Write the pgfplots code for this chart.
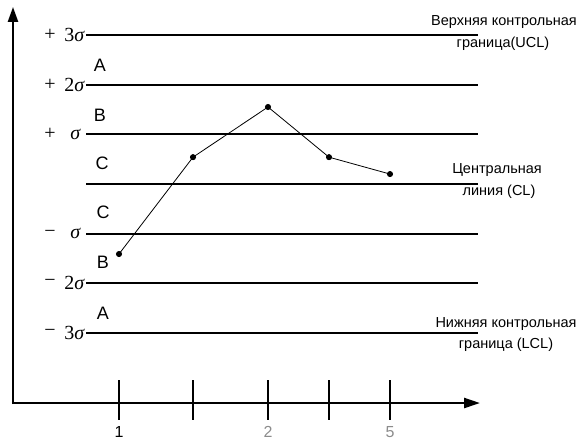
\documentclass[border=0pt]{standalone}
\usepackage{fontspec}
\setmainfont{Liberation Sans}
\newfontfamily\serif{Liberation Serif}
\usepackage{pgfplots}
\pgfplotsset{compat=1.18}
\usetikzlibrary{arrows.meta}
\newcommand{\fs}[1]{\fontsize{#1}{#1}\selectfont}
\begin{document}
\begin{tikzpicture}
\begin{axis}[
  scale only axis, width=581pt, height=443pt,
  xmin=0, xmax=581, ymin=-5.214, ymax=3.704,
  axis lines=none, clip=false,
]
\path (rel axis cs:0,0) rectangle (rel axis cs:1,1);
% control lines
\addplot[black, line width=1.8pt, forget plot] coordinates {(86,3) (478,3)};
\addplot[black, line width=1.8pt, forget plot] coordinates {(86,2) (478,2)};
\addplot[black, line width=1.8pt, forget plot] coordinates {(86,1) (478,1)};
\addplot[black, line width=1.8pt, forget plot] coordinates {(86,0) (478,0)};
\addplot[black, line width=1.8pt, forget plot] coordinates {(86,-1) (478,-1)};
\addplot[black, line width=1.8pt, forget plot] coordinates {(86,-2) (478,-2)};
\addplot[black, line width=1.8pt, forget plot] coordinates {(86,-3) (478,-3)};
% data
\addplot[black, line width=0.8pt, mark=*, mark size=2.6pt, mark options={fill=black}]
  coordinates {(119,-1.41) (193,0.54) (268,1.55) (329,0.54) (390,0.20)};
% axes
\draw[line width=2.4pt, -{Triangle[length=15pt,width=10pt]}] (axis cs:13,-4.43) -- (axis cs:13,3.564);
\draw[line width=2.4pt, -{Triangle[length=16pt,width=10pt]}] (axis cs:11.8,-4.409) -- (axis cs:480,-4.409);
\pgfplotsinvokeforeach{119,193,268,329,390}{
  \draw[line width=2.4pt] (axis cs:#1,-3.946) -- (axis cs:#1,-4.751);
}
% sigma labels
\tikzset{sg/.style={inner sep=0pt, font=\serif\fs{20}}}
\node[sg] at (axis cs:50,3) {+};
\node[sg] at (axis cs:50,2) {+};
\node[sg] at (axis cs:50,1) {+};
\node[sg] at (axis cs:50,-1) {\textminus};
\node[sg] at (axis cs:50,-2) {\textminus};
\node[sg] at (axis cs:50,-3) {\textminus};
\node[sg, anchor=east] at (axis cs:85,3) {3\textit{σ}};
\node[sg, anchor=east] at (axis cs:85,2) {2\textit{σ}};
\node[sg, anchor=east] at (axis cs:81,1) {\textit{σ}};
\node[sg, anchor=east] at (axis cs:81,-1) {\textit{σ}};
\node[sg, anchor=east] at (axis cs:85,-2) {2\textit{σ}};
\node[sg, anchor=east] at (axis cs:85,-3) {3\textit{σ}};
% zone letters
\tikzset{zl/.style={inner sep=0pt, font=\fs{18}}}
\node[zl] at (axis cs:100,2.38) {A};
\node[zl] at (axis cs:100,1.39) {B};
\node[zl] at (axis cs:102,0.42) {C};
\node[zl] at (axis cs:103,-0.56) {C};
\node[zl] at (axis cs:103,-1.57) {B};
\node[zl] at (axis cs:103,-2.60) {A};
% right labels
\node[font=\fs{14.5}, inner sep=0pt] at (axis cs:504,3.26) {Верхняя контрольная};
\node[font=\fs{14.5}, inner sep=0pt] at (axis cs:503,2.82) {граница(UCL)};
\node[font=\fs{14.5}, inner sep=0pt] at (axis cs:497,0.28) {Центральная};
\node[font=\fs{14.5}, inner sep=0pt] at (axis cs:499,-0.16) {линия (CL)};
\node[font=\fs{14.5}, inner sep=0pt] at (axis cs:506,-2.82) {Нижняя контрольная};
\node[font=\fs{14.5}, inner sep=0pt] at (axis cs:506,-3.24) {граница (LCL)};
% tick labels
\node[font=\fs{16}, inner sep=0pt] at (axis cs:119,-4.99) {1};
\node[font=\fs{16}, inner sep=0pt, text=black!45] at (axis cs:268,-4.99) {2};
\node[font=\fs{16}, inner sep=0pt, text=black!45] at (axis cs:390,-4.99) {5};
\end{axis}
\end{tikzpicture}
\end{document}
